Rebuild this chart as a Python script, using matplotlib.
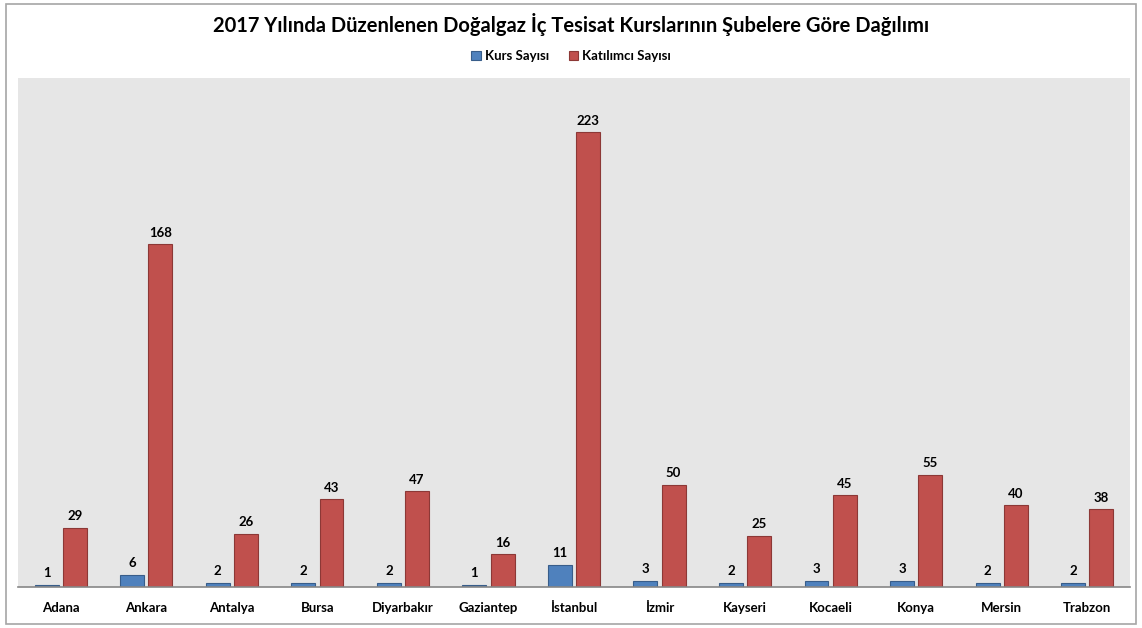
import matplotlib
matplotlib.use("Agg")
import matplotlib.pyplot as plt
import numpy as np
from matplotlib.patches import Rectangle

categories = ["Adana", "Ankara", "Antalya", "Bursa", "Diyarbakır", "Gaziantep", "İstanbul",
              "İzmir", "Kayseri", "Kocaeli", "Konya", "Mersin", "Trabzon"]
kurs = [1, 6, 2, 2, 2, 1, 11, 3, 2, 3, 3, 2, 2]
katilimci = [29, 168, 26, 43, 47, 16, 223, 50, 25, 45, 55, 40, 38]
series_names = ["Kurs Sayısı", "Katılımcı Sayısı"]
title = "2017 Yılında Düzenlenen Doğalgaz İç Tesisat Kurslarının Şubelere Göre Dağılımı"

plt.rcParams['font.family'] = ['Lato', 'DejaVu Sans']

fig = plt.figure(figsize=(11.42, 6.28), dpi=100)
W, H = 1142, 628
ax = fig.add_axes([18 / W, 1 - 587 / H, (1130 - 18) / W, (587 - 78) / H])
ax.set_facecolor("#E6E6E6")

x = np.arange(len(categories))
bw = 0.28
off = 0.165
b1 = ax.bar(x - off, kurs, bw, color="#4F81BD", edgecolor="#385D8A", linewidth=0.8, label=series_names[0])
b2 = ax.bar(x + off, katilimci, bw, color="#C0504D", edgecolor="#8C3836", linewidth=0.8, label=series_names[1])

for rect, v in zip(b1, kurs):
    ax.annotate(str(v), (rect.get_x() + rect.get_width() / 2, v), xytext=(0, 4),
                textcoords="offset points", ha="center", va="bottom", fontsize=9.5, fontweight="bold")
for rect, v in zip(b2, katilimci):
    ax.annotate(str(v), (rect.get_x() + rect.get_width() / 2, v), xytext=(0, 4),
                textcoords="offset points", ha="center", va="bottom", fontsize=9.5, fontweight="bold")

ax.set_xlim(-0.5, len(categories) - 0.5)
ax.set_ylim(0, 249.5)
ax.set_yticks([])
ax.set_xticks(x)
ax.set_xticklabels(categories, fontsize=9.5, fontweight="bold")
ax.tick_params(axis="x", length=0, pad=11)
for s in ["top", "right", "left"]:
    ax.spines[s].set_visible(False)
ax.spines["bottom"].set_color("#868686")
ax.spines["bottom"].set_linewidth(1.2)

fig.text(0.5, 1 - 25 / H, title, ha="center", va="center", fontsize=14.5, fontweight="bold")
leg = fig.legend(handles=[b1, b2], labels=series_names, loc="center", bbox_to_anchor=(0.5, 1 - 56 / H),
                 ncol=2, frameon=False, prop={"weight": "bold", "size": 9.5},
                 handlelength=0.7, handleheight=0.7, columnspacing=1.5, handletextpad=0.3)

border = Rectangle((6 / W, 4 / H), (1136 - 6) / W, (624 - 4) / H, transform=fig.transFigure,
                   fill=False, edgecolor="#A6A6A6", linewidth=1.2)
fig.patches.append(border)

fig.savefig("out.png", dpi=100)
